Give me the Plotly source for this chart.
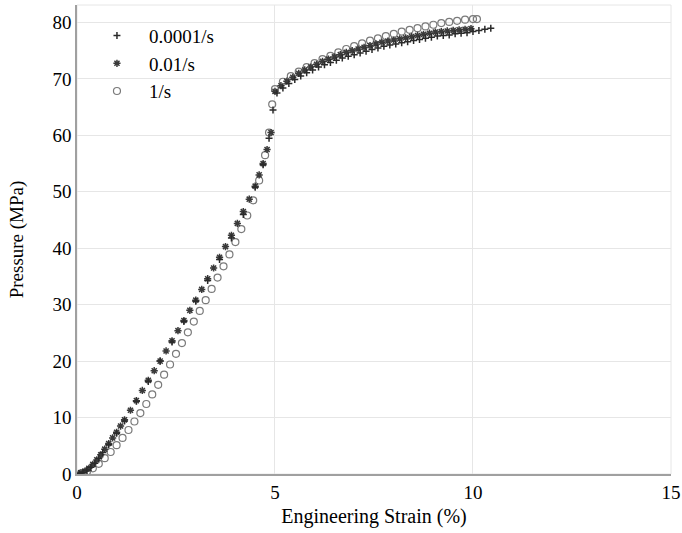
import plotly.graph_objects as go

# 0.0001/s
slow_x = [0.05, 0.15, 0.25, 0.35, 0.45, 0.55, 0.65, 0.8, 1.0, 1.2, 1.5, 1.8, 2.1, 2.4, 2.7, 3.0,
          3.3, 3.6, 3.9, 4.2, 4.5, 4.7, 4.85, 4.95,
          5.05, 5.2, 5.35, 5.5, 5.65, 5.8, 5.95, 6.1, 6.25, 6.4, 6.55, 6.7, 6.85, 7.0, 7.15, 7.3,
          7.45, 7.6, 7.75, 7.9, 8.05, 8.2, 8.35, 8.5, 8.65, 8.8, 8.95, 9.1, 9.25, 9.4, 9.55, 9.7,
          9.85, 10.0, 10.15, 10.3, 10.45]
slow_y = [0.1, 0.3, 0.7, 1.2, 1.9, 2.8, 3.8, 5.2, 7.2, 9.4, 12.9, 16.4, 20.0, 23.4, 27.0, 30.6,
          34.3, 38.0, 41.8, 46.0, 50.8, 54.8, 59.5, 64.5,
          67.5, 68.4, 69.2, 69.9, 70.5, 71.1, 71.6, 72.1, 72.5, 72.9, 73.3, 73.7, 74.0, 74.3, 74.6, 74.9,
          75.2, 75.5, 75.8, 76.0, 76.2, 76.4, 76.6, 76.8, 77.0, 77.2, 77.4, 77.6, 77.7, 77.8, 78.0, 78.1,
          78.2, 78.4, 78.6, 78.8, 79.0]

# 0.01/s
mid_x = [0.1, 0.2, 0.3, 0.4, 0.5, 0.6, 0.7, 0.8, 0.9, 1.0, 1.1, 1.2, 1.35, 1.5, 1.65, 1.8, 1.95,
         2.1, 2.25, 2.4, 2.55, 2.7, 2.85, 3.0, 3.15, 3.3, 3.45, 3.6, 3.75, 3.9, 4.05, 4.2, 4.35,
         4.5, 4.6, 4.7, 4.8, 4.9,
         5.0, 5.15, 5.3, 5.45, 5.6, 5.75, 5.9, 6.05, 6.2, 6.35, 6.5, 6.65, 6.8, 6.95, 7.1, 7.25,
         7.4, 7.55, 7.7, 7.85, 8.0, 8.15, 8.3, 8.45, 8.6, 8.75, 8.9, 9.05, 9.2, 9.35, 9.5, 9.65,
         9.8, 9.95]
mid_y = [0.2, 0.5, 1.0, 1.7, 2.5, 3.4, 4.4, 5.4, 6.4, 7.4, 8.5, 9.6, 11.3, 13.0, 14.8, 16.6, 18.3,
         20.0, 21.8, 23.6, 25.4, 27.2, 29.0, 30.8, 32.7, 34.6, 36.5, 38.4, 40.3, 42.3, 44.4, 46.5, 48.7,
         51.0, 53.0, 55.0, 57.5, 60.5,
         67.8, 68.8, 69.6, 70.3, 71.0, 71.6, 72.1, 72.6, 73.1, 73.5, 73.9, 74.3, 74.7, 75.0, 75.3, 75.6,
         75.9, 76.2, 76.5, 76.7, 76.9, 77.1, 77.3, 77.5, 77.7, 77.9, 78.1, 78.3, 78.4, 78.5, 78.6, 78.7,
         78.8, 78.9]

# 1/s
fast_x = [0.1, 0.25, 0.4, 0.55, 0.7, 0.85, 1.0, 1.15, 1.3, 1.45, 1.6, 1.75, 1.9, 2.05, 2.2, 2.35,
          2.5, 2.65, 2.8, 2.95, 3.1, 3.25, 3.4, 3.55, 3.7, 3.85, 4.0, 4.15, 4.3, 4.45, 4.6, 4.75,
          4.85, 4.93,
          5.0, 5.2, 5.4, 5.6, 5.8, 6.0, 6.2, 6.4, 6.6, 6.8, 7.0, 7.2, 7.4, 7.6, 7.8, 8.0, 8.2, 8.4,
          8.6, 8.8, 9.0, 9.2, 9.4, 9.6, 9.8, 10.0, 10.1]
fast_y = [0.1, 0.4, 1.0, 1.8, 2.8, 3.9, 5.1, 6.4, 7.8, 9.3, 10.8, 12.4, 14.1, 15.8, 17.6, 19.4,
          21.3, 23.2, 25.1, 27.0, 28.9, 30.8, 32.8, 34.8, 36.8, 38.9, 41.1, 43.4, 45.8, 48.5, 52.0, 56.5,
          60.5, 65.5,
          68.2, 69.5, 70.5, 71.3, 72.1, 72.8, 73.5, 74.1, 74.7, 75.3, 75.8, 76.3, 76.8, 77.2, 77.6, 78.0,
          78.4, 78.7, 79.0, 79.3, 79.6, 79.9, 80.1, 80.3, 80.5, 80.6, 80.6]

x_ticks = [0, 5, 10, 15]
y_ticks = [0, 10, 20, 30, 40, 50, 60, 70, 80]

FONT = "Liberation Serif, Times New Roman, serif"

fig = go.Figure()
fig.add_trace(go.Scatter(
    x=fast_x, y=fast_y, mode="markers", name="1/s",
    marker=dict(symbol="circle-open", size=7, color="#7a7a7a", line=dict(width=1.2))))
fig.add_trace(go.Scatter(
    x=mid_x, y=mid_y, mode="markers", name="0.01/s",
    marker=dict(symbol="asterisk-open", size=6, color="#3a3a3a", line=dict(width=1.5))))
fig.add_trace(go.Scatter(
    x=slow_x, y=slow_y, mode="markers", name="0.0001/s",
    marker=dict(symbol="cross-thin-open", size=5, color="#2a2a2a", line=dict(width=1.5))))

fig.update_layout(
    width=682, height=533,
    margin=dict(l=77, r=11, t=5, b=59, autoexpand=False),
    paper_bgcolor="white", plot_bgcolor="white",
    font=dict(family=FONT, size=19, color="black"),
    showlegend=True,
    legend=dict(x=0.0134, y=0.975, xanchor="left", yanchor="top",
                traceorder="reversed", bgcolor="rgba(0,0,0,0)",
                font=dict(family=FONT, size=19), itemwidth=54,
                tracegroupgap=0),
    xaxis=dict(range=[0, 15.001], tickvals=x_ticks, showgrid=True, gridcolor="#e6e6e6",
               showline=True, linecolor="#a0a0a0", linewidth=1.5, ticks="",
               zeroline=False, ticklabeloverflow="allow", tickfont=dict(size=19),
               automargin=False,
               title=dict(text="Engineering Strain (%)", font=dict(family=FONT, size=20), standoff=7)),
    yaxis=dict(range=[0, 83.1], tickvals=y_ticks, showgrid=True, gridcolor="#e6e6e6",
               showline=True, linecolor="#a0a0a0", linewidth=1.5, ticks="",
               zeroline=False, tickfont=dict(size=19), automargin=False,
               title=dict(text="Pressure (MPa)", font=dict(family=FONT, size=19), standoff=24)),
)
fig.add_shape(type="rect", xref="paper", yref="paper", x0=0, y0=0, x1=1, y1=1,
              line=dict(color="#e6e6e6", width=1), layer="below")

fig.write_html("out.html")
